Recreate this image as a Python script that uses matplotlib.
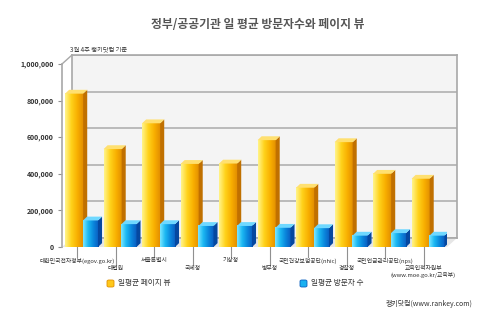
import numpy as np
import matplotlib
matplotlib.use('Agg')
import matplotlib.pyplot as plt
from matplotlib.colors import LinearSegmentedColormap
from matplotlib.patches import Polygon, FancyBboxPatch
from matplotlib.lines import Line2D

plt.rcParams['font.family'] = ['Noto Sans CJK KR', 'DejaVu Sans']

# data
sites = ['대한민국전자정부(egov.go.kr)', '대법원', '서울특별시', '국세청', '기상청',
         '병무청', '국민건강보험공단(nhic)', '경찰청', '국민연금관리공단(nps)',
         '교육인적자원부\n(www.moe.go.kr/교육부)']
page_views = [838000, 535000, 676000, 454000, 456000, 584000, 324000, 573000, 400000, 373000]
visitors = [145000, 125000, 125000, 115000, 115000, 105000, 103000, 62000, 76000, 62000]
yticks = [0, 200000, 400000, 600000, 800000, 1000000]

W, H = 480, 323
fig = plt.figure(figsize=(4.8, 3.23), dpi=100)
fig.patch.set_facecolor('white')

def fx(px):
    return px / W

def fy(py):
    return 1 - py / H

# back wall
axb = fig.add_axes([fx(72), fy(238), fx(385), 183 / H])
axb.set_facecolor('#F4F4F4')
axb.set_xlim(0, 10)
axb.set_ylim(0, 1000000)
axb.set_yticks(yticks)
axb.set_xticks([])
axb.tick_params(left=False, labelleft=False)
axb.grid(axis='y', color='#B0B0B0', lw=1.2)
for s in axb.spines.values():
    s.set_color('#A8A8A8')
    s.set_linewidth(1.2)

# floor and connecting edges
floor = Polygon([[fx(62), fy(247)], [fx(447), fy(247)], [fx(457), fy(238)], [fx(72), fy(238)]],
                closed=True, transform=fig.transFigure, facecolor='#E6E6E6', edgecolor='none', zorder=-1)
fig.patches.append(floor)
fig.add_artist(Line2D([fx(62), fx(72)], [fy(64), fy(55)], color='#A8A8A8', lw=1))

# front plane
ax = fig.add_axes([fx(62), fy(247), fx(385), 183 / H])
ax.patch.set_alpha(0)
ax.set_xlim(0, 10)
ax.set_ylim(0, 1000000)

cm_or = LinearSegmentedColormap.from_list('or', ['#FFF48A', '#FFD21A', '#F8AE00', '#E08A00'])
cm_bl = LinearSegmentedColormap.from_list('bl', ['#7AE6FF', '#1BB8F2', '#0A86DC', '#0A5CC0'])
grad = np.linspace(0, 1, 64).reshape(1, -1)

dx = 0.105
dy = 21000

def bar3d(x0, w, h, cmap, side, top, z):
    ax.imshow(grad, extent=[x0, x0 + w, 0, h], aspect='auto', cmap=cmap, zorder=z, interpolation='bilinear')
    ax.add_patch(Polygon([[x0 + w, 0], [x0 + w, h], [x0 + w + dx, h + dy], [x0 + w + dx, dy]],
                         closed=True, facecolor=side, edgecolor='none', zorder=z))
    ax.add_patch(Polygon([[x0, h], [x0 + w, h], [x0 + w + dx, h + dy], [x0 + dx, h + dy]],
                         closed=True, facecolor=top, edgecolor='none', zorder=z))

for i in range(len(sites)):
    bar3d(i + 0.08, 0.47, page_views[i], cm_or, '#C07000', '#FFE070', 2)
    bar3d(i + 0.545, 0.39, visitors[i], cm_bl, '#0548A0', '#6FD8FF', 3)

ax.set_xlim(0, 10)
ax.set_ylim(0, 1000000)
ax.set_yticks(yticks)
ax.set_yticklabels(['{:,}'.format(v) for v in yticks], fontsize=5, fontweight='bold', color='#333333')
ax.set_xticks([])
ax.tick_params(axis='y', length=3, color='#909090', pad=3)
for k in ['top', 'right', 'bottom']:
    ax.spines[k].set_visible(False)
ax.spines['left'].set_color('#A8A8A8')
ax.spines['left'].set_linewidth(1.2)

# category labels, staggered with leader lines
tr = ax.get_xaxis_transform()
for i, name in enumerate(sites):
    xc = i + 0.39
    drop = 10 if i % 2 == 0 else 18
    ax.plot([xc, xc], [0, -drop / 183], color='#909090', lw=0.8, transform=tr, clip_on=False)
    ax.text(xc, -(drop + 1) / 183, name, transform=tr, ha='center', va='top',
            fontsize=4.2, color='#333333', linespacing=1.1)

# title and notes
fig.text(fx(258), fy(25), '정부/공공기관 일 평균 방문자수와 페이지 뷰', ha='center', va='center',
         fontsize=8.5, fontweight='bold', color='#555555')
fig.text(fx(70), fy(53), '3월 4주 랭키닷컴 기준', ha='left', va='bottom', fontsize=4.5, color='#333333')

# legend
for px, col, edge, label in [(107, '#FFC81A', '#E09000', '일평균 페이지 뷰'),
                             (300, '#19B0F0', '#0A60C0', '일평균 방문자 수')]:
    fig.patches.append(FancyBboxPatch((fx(px), fy(287)), fx(7), 7 / H,
                                      boxstyle='round,pad=0,rounding_size=0.004',
                                      transform=fig.transFigure, facecolor=col, edgecolor=edge, lw=0.6))
    fig.text(fx(px + 11), fy(283.5), label, ha='left', va='center', fontsize=5.5, color='#333333')

fig.text(fx(472), fy(304), '랭키닷컴(www.rankey.com)', ha='right', va='center', fontsize=5, color='#333333')

fig.savefig('out.png', dpi=100)
